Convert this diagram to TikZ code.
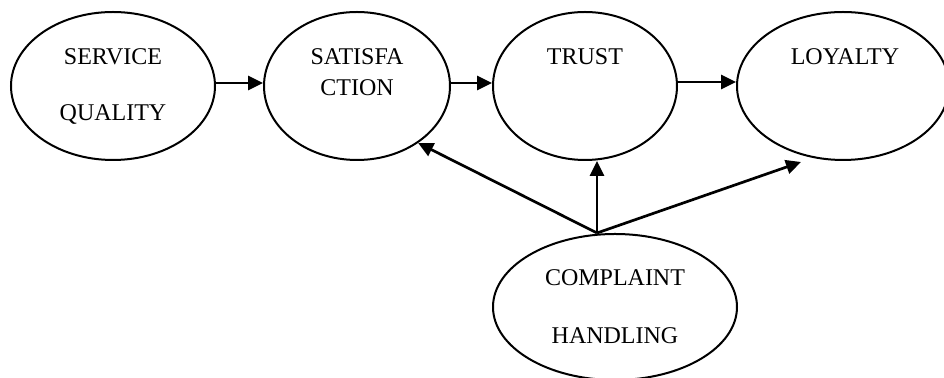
\documentclass[tikz,border=0pt]{standalone}
\usepackage{fontspec}
\setmainfont{Liberation Serif}
\usetikzlibrary{shapes.geometric,arrows.meta}
\begin{document}
\begin{tikzpicture}[x=0.5pt,y=-0.5pt,
  oval/.style={draw, ellipse, line width=1pt, inner sep=0pt},
  lbl/.style={anchor=base, inner sep=0pt, font=\fontsize{12}{14}\selectfont},
  arr/.style={line width=1.35pt, -{Triangle[length=7.5pt,width=7pt]}}]
\useasboundingbox (0,0) rectangle (944,378);
\clip (0,0) rectangle (944,378);
% ellipses
\node[oval, minimum width=102pt, minimum height=74pt] (sq) at (113,86) {};
\node[oval, minimum width=93pt, minimum height=74pt] (sat) at (357,86) {};
\node[oval, minimum width=92pt, minimum height=74pt] (trust) at (585,86) {};
\node[oval, minimum width=106pt, minimum height=74pt] (loy) at (843,86) {};
\node[oval, minimum width=122pt, minimum height=73pt] (ch) at (615,307) {};
% texts
\node[lbl] (sq1) at (113,65) {SERVICE};
\node[lbl] (sq2) at (113,121) {QUALITY};
\node[lbl] (sat1) at (357,65) {SATISFA};
\node[lbl] (sat2) at (357,96) {CTION};
\node[lbl] (tr1) at (585,65) {TRUST};
\node[lbl] (lo1) at (845,65) {LOYALTY};
\node[lbl] (ch1) at (615,286) {COMPLAINT};
\node[lbl] (ch2) at (615,344) {HANDLING};
% connectors
\draw[arr] ([yshift=1.5pt]sq.east) -- ([yshift=1.5pt]sat.west);
\draw[arr] ([yshift=1.5pt]sat.east) -- ([yshift=1.5pt]trust.west);
\draw[arr] ([yshift=2pt]trust.east) -- ([yshift=2pt]loy.west);
\coordinate (apex) at ([xshift=-9pt]ch.north);
\coordinate (loyend) at ([shift={(-21pt,-0.5pt)}]loy.south);
\draw[arr] (apex) -- (sat.-43);
\draw[arr] (apex) -- (apex |- trust.south);
\draw[arr] (apex) -- (loyend);
\end{tikzpicture}
\end{document}
